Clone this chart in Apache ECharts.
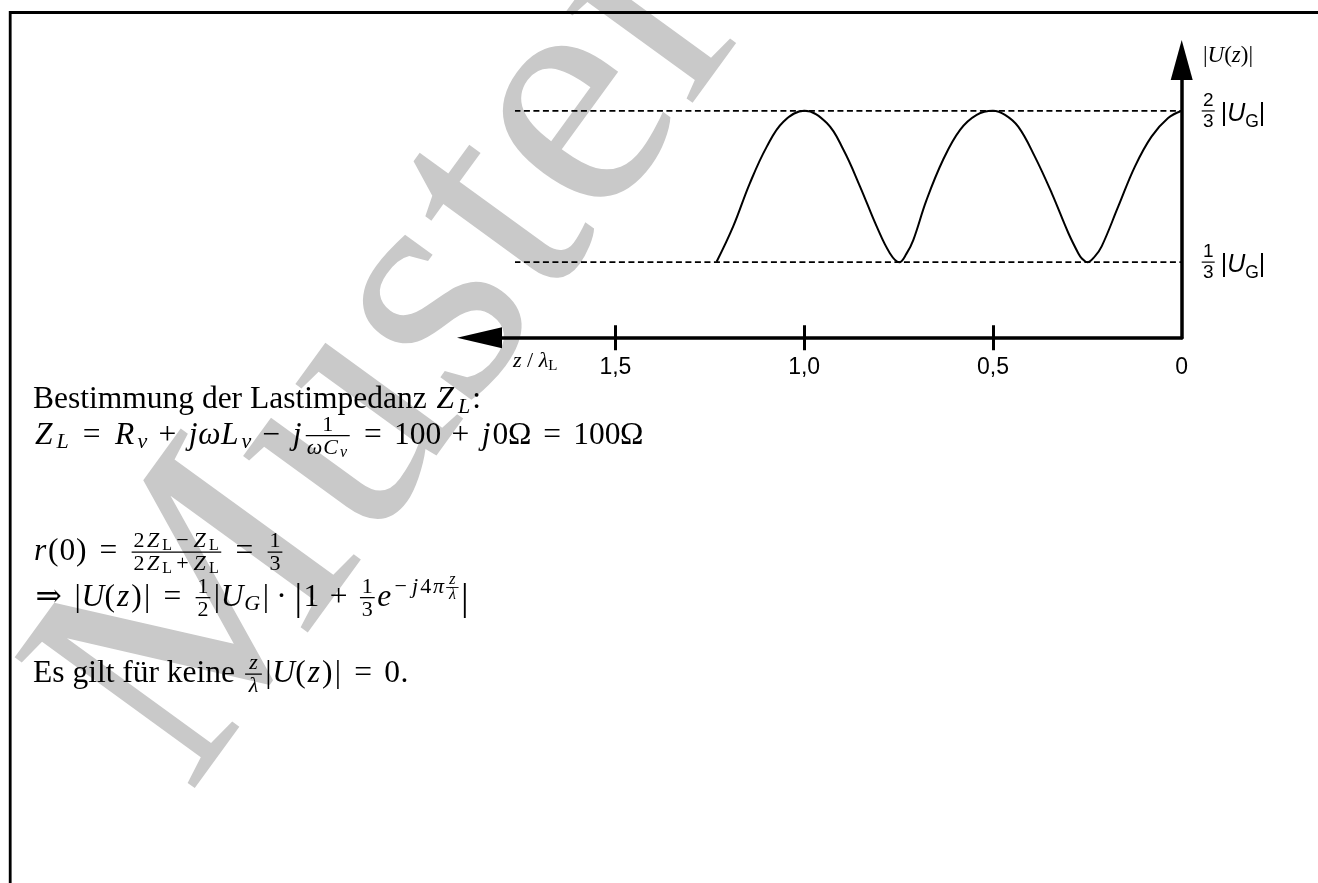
<!DOCTYPE html>
<html><head><meta charset="utf-8">
<script src="https://cdn.jsdelivr.net/npm/echarts@6/dist/echarts.min.js"></script>
<style>html,body{margin:0;padding:0;background:#fff}#c{width:1318px;height:883px}</style>
</head><body><div id="c"></div>
<script>
// ---------- data ----------
const zValues = [0, 0.036, 0.080, 0.124, 0.168, 0.212, 0.230, 0.250, 0.265, 0.274, 0.300, 0.344, 0.389, 0.433, 0.468, 0.500, 0.543, 0.587, 0.632, 0.676, 0.711, 0.729, 0.748, 0.773, 0.808, 0.852, 0.896, 0.940, 1.000, 1.055, 1.099, 1.144, 1.188, 1.232];
const uValues = [0.667, 0.651, 0.610, 0.544, 0.456, 0.368, 0.346, 0.333, 0.342, 0.353, 0.397, 0.485, 0.566, 0.632, 0.658, 0.667, 0.658, 0.625, 0.559, 0.470, 0.382, 0.352, 0.333, 0.353, 0.412, 0.500, 0.581, 0.640, 0.667, 0.643, 0.588, 0.507, 0.412, 0.334];
const levelValues = [1/3, 2/3];
const levelNumerators = ['1', '2'];
const levelDenominators = ['3', '3'];
const dashRange = [-0.035, 1.766];
const xTickValues = [0.5, 1.0, 1.5];
const xLabelValues = [0, 0.5, 1.0, 1.5];
const xTickLabels = ['0', '0,5', '1,0', '1,5'];
const axisRangeX = [0, 1.86];
const axisRangeY = [1/6, 0.779];

// ---------- text layout helpers ----------
const FAM = "'Liberation Serif', 'DejaVu Serif', serif";
const mctx = document.createElement('canvas').getContext('2d');
function fnt(sz, it) { return (it ? 'italic ' : '') + sz + 'px ' + FAM; }
function tw(t, f) { mctx.font = f; return mctx.measureText(t).width; }
function boff(f, sz) {
  mctx.font = f; mctx.textBaseline = 'middle';
  const m = mctx.measureText('H');
  mctx.textBaseline = 'alphabetic';
  if (typeof m.alphabeticBaseline === 'number' && m.alphabeticBaseline !== 0) return Math.abs(m.alphabeticBaseline);
  const m2 = mctx.measureText('H');
  if (m2.fontBoundingBoxAscent) return (m2.fontBoundingBoxAscent - m2.fontBoundingBoxDescent) / 2;
  return 0.34 * sz;
}
// advance widths (em) of the Computer Modern glyphs used by the formulas
const cmRoman = { '0': .5, '1': .5, '2': .5, '3': .5, '4': .5, '=': .778, '+': .778, '−': .778, '(': .389, ')': .389, '|': .278, 'Ω': .722, '.': .278, '·': .278, '⇒': 1.0, 'L': .625, ':': .278 };
const cmItalic = { 'Z': .681, 'L': .681, 'R': .759, 'U': .683, 'G': .786, 'C': .715, 'v': .485, 'j': .412, 'r': .451, 'z': .465, 'e': .466, 'ω': .622, 'π': .570, 'λ': .583 };
const TS = 31.5, S = 31.5, SS = 22, SSS = 16;
const scriptFactor = sz => sz <= SSS ? 1.2 : (sz <= SS ? 1.08 : 1);
const T = (t) => ({ t, it: false, sz: TS, dy: 0, text: true });
const R = (t, sz = S, dy = 0) => ({ t, it: false, sz, dy });
const I = (t, sz = S, dy = 0) => ({ t, it: true, sz, dy });
const SP = (em, sz = S) => ({ sp: em * sz });
const REL = (t) => [SP(0.278), R(t), SP(0.278)];
const BIN = (t) => [SP(0.222), R(t), SP(0.222)];
const FR = (num, den, o) => Object.assign({ frac: true, num, den, axis: 0.25 * S, nu: 4.8, dd: 18, bar: 1.3, pad: 3.6, shift: 0 }, o || {});
const BIG = () => R('|', 38, 4.5);

function charW(ch, tok) {
  const tbl = tok.it ? cmItalic : cmRoman;
  if (tbl[ch] != null) return tbl[ch] * tok.sz * scriptFactor(tok.sz);
  return tw(ch, fnt(tok.sz, tok.it));
}
function width(tok) {
  if (tok.sp != null) return tok.sp;
  if (tok.frac) return fracW(tok);
  if (tok.text) return tw(tok.t, fnt(tok.sz, tok.it));
  let w = 0; for (const ch of tok.t) w += charW(ch, tok); return w;
}
function seqW(a) { return a.flat().reduce((s, t) => s + width(t), 0); }
function fracW(f) { return Math.max(seqW(f.num), seqW(f.den)) + 2 * f.pad; }
function txt(s, x, y, f, sz) {
  return { type: 'text', z: 5, x: x, y: y - boff(f, sz),
    style: { text: s, font: f, fill: '#000', align: 'left', verticalAlign: 'middle', textAlign: 'left', textVerticalAlign: 'middle' } };
}
function emit(arr, x, base, out) {
  for (const tok of arr.flat()) {
    if (tok.sp != null) { x += tok.sp; continue; }
    if (tok.frac) {
      const W = fracW(tok), nw = seqW(tok.num), dw = seqW(tok.den);
      const ax = base + tok.shift - tok.axis;
      emit(tok.num, x + (W - nw) / 2, ax - tok.nu, out);
      emit(tok.den, x + (W - dw) / 2, ax + tok.dd, out);
      out.push({ type: 'rect', z: 5, shape: { x: x + tok.pad * 0.6, y: ax - tok.bar / 2, width: W - tok.pad * 1.2, height: tok.bar }, style: { fill: '#000' } });
      x += W; continue;
    }
    const f = fnt(tok.sz, tok.it);
    if (tok.text) { out.push(txt(tok.t, x, base + tok.dy, f, tok.sz)); x += tw(tok.t, f); continue; }
    for (const ch of tok.t) {
      const bw = charW(ch, tok), gw = tw(ch, f);
      out.push(txt(ch, x + (bw - gw) / 2, base + tok.dy, f, tok.sz));
      x += bw;
    }
  }
  return x;
}

const lines = [
  { x: 33, base: 408, toks: [T('Bestimmung der Lastimpedanz '), I('Z'), I('L', SS, 4.5), R(':')] },
  { x: 33, base: 443.5, toks: [I('Z'), I('L', SS, 4.5), REL('='), I('R'), I('v', SS, 4.5), BIN('+'), I('jωL'), I('v', SS, 4.5), BIN('−'), I('j'),
      FR([R('1', SS)], [I('ωC', SS), I('v', SSS, 3)]), REL('='), R('100'), BIN('+'), I('j'), R('0Ω'), REL('='), R('100Ω')] },
  { x: 33, base: 560, toks: [I('r'), R('(0)'), REL('='),
      FR([R('2', SS), I('Z', SS), R('L', SSS, 3), R('−', SS), I('Z', SS), R('L', SSS, 3)],
         [R('2', SS), I('Z', SS), R('L', SSS, 3), R('+', SS), I('Z', SS), R('L', SSS, 3)]),
      REL('='), FR([R('1', SS)], [R('3', SS)])] },
  { x: 33, base: 605.5, toks: [R('⇒'), SP(0.278), R('|'), I('U'), R('('), I('z'), R(')|'), REL('='), FR([R('1', SS)], [R('2', SS)]),
      R('|'), I('U'), I('G', SS, 4.5), R('|'), BIN('·'), BIG(), R('1'), BIN('+'), FR([R('1', SS)], [R('3', SS)]), I('e'),
      R('−', SS, -12.5), I('j', SS, -12.5), R('4', SS, -12.5), I('π', SS, -12.5),
      FR([I('z', SSS)], [I('λ', SSS)], { shift: -12.5, axis: 5.5, nu: 3.5, dd: 11.5, bar: 0.9, pad: 1.5 }), BIG()] },
  { x: 33, base: 682, toks: [T('Es gilt für keine '), FR([I('z', SS)], [I('λ', SS)]), R('|'), I('U'), R('('), I('z'), R(')|'), REL('='), R('0.')] }
];

const gEls = [];
// watermark
const wmSize = 340;
const wmFont = wmSize + "px 'Liberation Serif', serif";
gEls.push({ type: 'text', x: 189, y: 796, rotation: 54 * Math.PI / 180, z: -10,
  style: { text: 'Muster', font: wmFont, fill: '#c9c9c9', x: 0, y: -boff(wmFont, wmSize),
    align: 'left', verticalAlign: 'middle', textAlign: 'left', textVerticalAlign: 'middle' } });
// frame
gEls.push({ type: 'line', z: 6, shape: { x1: 10, y1: 12.5, x2: 1318, y2: 12.5 }, style: { stroke: '#000', lineWidth: 3 } });
gEls.push({ type: 'line', z: 6, shape: { x1: 10.2, y1: 11, x2: 10.2, y2: 883 }, style: { stroke: '#000', lineWidth: 2.8 } });
// formulas
for (const L of lines) emit(L.toks, L.x, L.base, gEls);
// axis names
const TX = (t, it, sz, dy) => ({ t, it, sz, dy: dy || 0, text: true });
emit([TX('z', true, 22), TX(' / ', false, 22), TX('λ', true, 22), TX('L', false, 15, 3)], 513, 367, gEls);
emit([TX('|', false, 23), TX('U', true, 23), TX('(', false, 23), TX('z', true, 23), TX(')|', false, 23)], 1203, 62, gEls);

const chart = echarts.init(document.getElementById('c'), null, { renderer: 'canvas' });
const idx = (arr, v) => arr.findIndex(a => Math.abs(a - v) < 1e-6);
const axisLineStyle = { color: '#000', width: 3.5 };
chart.setOption({
  animation: false,
  backgroundColor: '#ffffff',
  grid: { left: 479.5, right: 136.3, top: 60, bottom: 545.3, containLabel: false, outerBoundsMode: 'none' },
  xAxis: [
    { type: 'value', position: 'bottom', inverse: true, min: axisRangeX[0], max: axisRangeX[1],
      axisLine: { show: true, onZero: false, lineStyle: axisLineStyle, symbol: ['triangle', 'none'], symbolSize: [21, 45] },
      axisTick: { show: true, length: 12.5, customValues: xTickValues, lineStyle: { color: '#000', width: 3 } },
      axisLabel: { show: true, customValues: xLabelValues, margin: 18, color: '#000', fontFamily: 'Liberation Sans', fontSize: 23,
        formatter: v => xTickLabels[idx(xLabelValues, v)] },
      splitLine: { show: false } },
    { type: 'value', position: 'bottom', inverse: true, min: axisRangeX[0], max: axisRangeX[1],
      axisLine: { show: false, onZero: false },
      axisTick: { show: true, inside: true, length: 12.5, customValues: xTickValues, lineStyle: { color: '#000', width: 3 } },
      axisLabel: { show: false }, splitLine: { show: false } }
  ],
  yAxis: [
    { type: 'value', position: 'right', min: axisRangeY[0], max: axisRangeY[1],
      axisLine: { show: true, onZero: false, lineStyle: axisLineStyle, symbol: ['none', 'triangle'], symbolSize: [22, 40] },
      axisTick: { show: false }, splitLine: { show: false },
      axisLabel: { show: true, customValues: levelValues, margin: 20, color: '#000',
        formatter: v => { const i = idx(levelValues, v); return '{n|' + levelNumerators[i] + '}\n{b| }\n{d|' + levelDenominators[i] + '}'; },
        rich: {
          n: { fontFamily: 'Liberation Sans', fontSize: 19, lineHeight: 19, width: 13, align: 'center', color: '#000' },
          b: { width: 13, height: 1.2, lineHeight: 2, fontSize: 1, backgroundColor: '#000' },
          d: { fontFamily: 'Liberation Sans', fontSize: 19, lineHeight: 19, width: 13, align: 'center', color: '#000' }
        } } },
    { type: 'value', position: 'right', min: axisRangeY[0], max: axisRangeY[1],
      axisLine: { show: false, onZero: false }, axisTick: { show: false }, splitLine: { show: false },
      axisLabel: { show: true, customValues: levelValues, margin: 39, color: '#000', padding: [6, 0, 0, 0],
        formatter: () => '{p||}{u|U}{g|G}{p||}',
        rich: {
          p: { fontFamily: 'Liberation Sans', fontSize: 25, lineHeight: 30, color: '#000' },
          u: { fontFamily: 'Liberation Sans', fontStyle: 'italic', fontSize: 25, lineHeight: 30, color: '#000' },
          g: { fontFamily: 'Liberation Sans', fontSize: 17.5, lineHeight: 13, padding: [17, 0, 0, 0], color: '#000' }
        } } }
  ],
  series: [
    { type: 'line', name: 'dash23', xAxisIndex: 0, yAxisIndex: 0, clip: false, symbol: 'none', silent: true, z: 1,
      data: dashRange.map(z => [z, levelValues[1]]), lineStyle: { color: '#000', width: 1.8, type: [6, 3.5] } },
    { type: 'line', name: 'dash13', xAxisIndex: 0, yAxisIndex: 0, clip: false, symbol: 'none', silent: true, z: 1,
      data: dashRange.map(z => [z, levelValues[0]]), lineStyle: { color: '#000', width: 1.8, type: [6, 3.5] } },
    { type: 'line', name: '|U(z)|', xAxisIndex: 0, yAxisIndex: 0, symbol: 'none', smooth: 0.4, z: 3,
      data: zValues.map((z, i) => [z, uValues[i]]), lineStyle: { color: '#000', width: 2 } }
  ],
  graphic: { elements: gEls }
});
</script></body></html>
